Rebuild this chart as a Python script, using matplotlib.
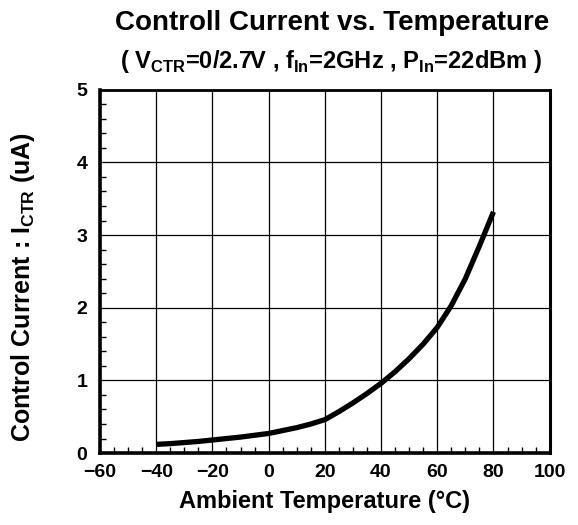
import matplotlib
matplotlib.use("Agg")
import matplotlib.pyplot as plt
from matplotlib.ticker import MultipleLocator

# values (every 5 degC)
temps = [-40, -35, -30, -25, -20, -15, -10, -5, 0, 5, 10, 15, 20,
         25, 30, 35, 40, 45, 50, 55, 60, 65, 70, 75, 80]
current = [0.12, 0.13, 0.145, 0.16, 0.18, 0.20, 0.22, 0.245, 0.27, 0.31, 0.35, 0.40, 0.46,
           0.57, 0.69, 0.82, 0.96, 1.12, 1.30, 1.50, 1.73, 2.03, 2.40, 2.85, 3.32]

x_ticks = [-60, -40, -20, 0, 20, 40, 60, 80, 100]
x_labels = ['\u221260', '\u221240', '\u221220', '0', '20', '40', '60', '80', '100']
y_ticks = [0, 1, 2, 3, 4, 5]

plt.rcParams['font.family'] = ['Liberation Sans', 'DejaVu Sans']
plt.rcParams['font.weight'] = 'bold'
plt.rcParams['mathtext.fontset'] = 'custom'
plt.rcParams['mathtext.rm'] = 'Liberation Sans:bold'
plt.rcParams['mathtext.bf'] = 'Liberation Sans:bold'

fig = plt.figure(figsize=(5.78, 5.25), dpi=100)
ax = fig.add_axes([0.173, 0.137, 0.778, 0.692])

ax.plot(temps, current, color='black', linewidth=3.8, solid_capstyle='butt',
        solid_joinstyle='round')

ax.set_xlim(-60, 100)
ax.set_ylim(0, 5)
ax.set_xticks(x_ticks)
ax.set_xticklabels(x_labels)
ax.set_yticks(y_ticks)
ax.xaxis.set_minor_locator(MultipleLocator(5))
ax.yaxis.set_minor_locator(MultipleLocator(0.2))
ax.grid(True, which='major', color='black', linewidth=0.9)
ax.tick_params(which='major', length=0, pad=8, labelsize=14)
ax.tick_params(which='minor', direction='in', length=4, width=1, color='black')
ax.tick_params(axis='y', pad=9)
for lab in ax.get_xticklabels() + ax.get_yticklabels():
    lab.set_fontweight('bold')

ax.spines['left'].set_linewidth(2.6)
ax.spines['bottom'].set_linewidth(2.6)
ax.spines['top'].set_linewidth(2.0)
ax.spines['right'].set_linewidth(2.2)

fig.text(0.575, 0.957, 'Controll Current vs. Temperature', ha='center', va='center',
         fontsize=20, fontweight='bold')
fig.text(0.573, 0.882,
         r'( V$_{\rm CTR}$=0/2.7V , f$_{\rm In}$=2GHz , P$_{\rm In}$=22dBm )',
         ha='center', va='center', fontsize=17, fontweight='bold')

ax.set_xlabel('Ambient Temperature (\u00b0C)', fontsize=17, fontweight='bold', labelpad=6)
fig.text(0.040, 0.453, r'Control Current : I$_{\rm CTR}$ (uA)', rotation=90,
         ha='center', va='center', fontsize=18, fontweight='bold')

plt.savefig('out.png', dpi=100)
